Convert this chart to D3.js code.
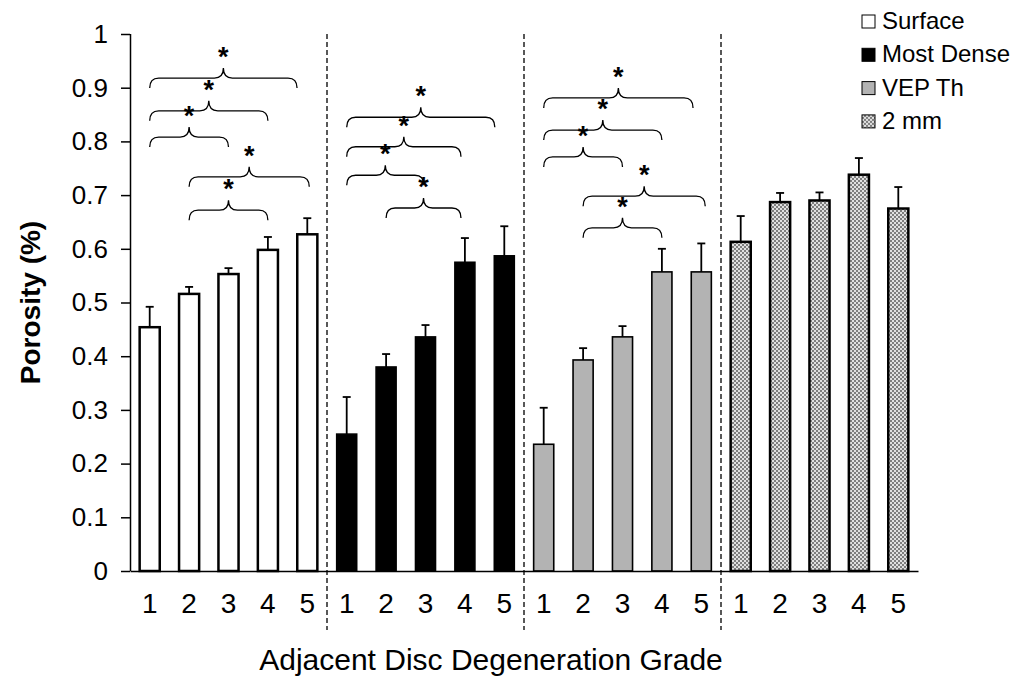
<!DOCTYPE html>
<html>
<head>
<meta charset="utf-8">
<script src="https://cdn.jsdelivr.net/npm/d3@7"></script>
<style>
  body { margin: 0; background: #fff; }
  text { font-family: "Liberation Sans", Arial, sans-serif; fill: #000; }
</style>
</head>
<body>
<div id="chart"></div>
<script>
// data
var groups = ["Surface", "Most Dense", "VEP Th", "2 mm"];
var grades = ["1", "2", "3", "4", "5"];

var surfaceMean = [0.454, 0.516, 0.553, 0.598, 0.627];
var surfaceErr  = [0.038, 0.013, 0.011, 0.024, 0.030];
var denseMean   = [0.255, 0.380, 0.436, 0.575, 0.587];
var denseErr    = [0.069, 0.024, 0.022, 0.045, 0.055];
var vepMean     = [0.236, 0.393, 0.436, 0.557, 0.557];
var vepErr      = [0.068, 0.022, 0.020, 0.043, 0.053];
var twoMean     = [0.613, 0.687, 0.690, 0.738, 0.675];
var twoErr      = [0.048, 0.017, 0.015, 0.031, 0.040];

// significance braces: [from grade, to grade, level]
var surfaceBraces = [[1, 4.74, 0.918], [1, 4, 0.857], [1, 3, 0.808], [2, 5.05, 0.734], [2, 4, 0.672]];
var denseBraces   = [[1, 4.76, 0.845], [1, 3.9, 0.790], [1, 2.96, 0.737], [2, 3.9, 0.676]];
var vepBraces     = [[1, 4.79, 0.881], [1, 4, 0.821], [1, 3, 0.771], [2, 5.1, 0.698], [2, 4, 0.639]];

var means = [surfaceMean, denseMean, vepMean, twoMean];
var errs = [surfaceErr, denseErr, vepErr, twoErr];
var braces = [surfaceBraces, denseBraces, vepBraces, []];

var fills = ["#ffffff", "#000000", "#b3b3b3", "url(#hatch)"];
var strokeW = [2.5, 1.5, 1.6, 2.5];

var rows = [];
groups.forEach(function(g, gi) {
  grades.forEach(function(k, ki) {
    rows.push({key: g + "|" + k, group: gi, grade: k, v: means[gi][ki], e: errs[gi][ki]});
  });
});

var width = 1020, height = 680;
var margin = {left: 130, right: 102, top: 34, bottom: 109};

var svg = d3.select("#chart").append("svg")
  .attr("width", width)
  .attr("height", height);

var defs = svg.append("defs");
var pat = defs.append("pattern")
  .attr("id", "hatch")
  .attr("patternUnits", "userSpaceOnUse")
  .attr("width", 4).attr("height", 4);
pat.append("rect").attr("width", 4).attr("height", 4).attr("fill", "#7e7e7e");
pat.append("rect").attr("width", 2).attr("height", 2).attr("fill", "#e0e0e0");
pat.append("rect").attr("x", 2).attr("y", 2).attr("width", 2).attr("height", 2).attr("fill", "#e0e0e0");

var x = d3.scaleBand()
  .domain(rows.map(function(d) { return d.key; }))
  .range([margin.left, width - margin.right])
  .paddingInner(0.49)
  .paddingOuter(0.245);

var y = d3.scaleLinear()
  .domain([0, 1])
  .range([height - margin.bottom, margin.top]);

function cx(gi, pos) {
  // centre of a (possibly fractional) grade position inside a group
  var first = x(groups[gi] + "|1") + x.bandwidth() / 2;
  return first + (pos - 1) * x.step();
}

// group separators
d3.range(1, groups.length).forEach(function(i) {
  svg.append("line")
    .attr("x1", cx(i, 0.5)).attr("x2", cx(i, 0.5))
    .attr("y1", margin.top).attr("y2", 630)
    .attr("stroke", "#222").attr("stroke-width", 1.5)
    .attr("stroke-dasharray", "5,3");
});

// bars
svg.selectAll(".bar").data(rows).enter().append("rect")
  .attr("class", "bar")
  .attr("x", function(d) { return x(d.key); })
  .attr("width", x.bandwidth())
  .attr("y", function(d) { return y(d.v); })
  .attr("height", function(d) { return y(0) - y(d.v); })
  .attr("fill", function(d) { return fills[d.group]; })
  .attr("stroke", "#000")
  .attr("stroke-width", function(d) { return strokeW[d.group]; });

// error bars (upper only)
var eb = svg.selectAll(".err").data(rows).enter().append("g").attr("class", "err")
  .attr("stroke", "#000").attr("stroke-width", 1.8);
eb.append("line")
  .attr("x1", function(d) { return x(d.key) + x.bandwidth() / 2; })
  .attr("x2", function(d) { return x(d.key) + x.bandwidth() / 2; })
  .attr("y1", function(d) { return y(d.v); })
  .attr("y2", function(d) { return y(d.v + d.e); });
eb.append("line")
  .attr("x1", function(d) { return x(d.key) + x.bandwidth() / 2 - 4; })
  .attr("x2", function(d) { return x(d.key) + x.bandwidth() / 2 + 4; })
  .attr("y1", function(d) { return y(d.v + d.e); })
  .attr("y2", function(d) { return y(d.v + d.e); });

// braces with asterisks
function bracePath(x1, x2, yh) {
  var drop = 10, rise = 10, r = 9;
  var xm = (x1 + x2) / 2;
  return "M" + x1 + "," + (yh + drop) +
    " Q" + x1 + "," + yh + " " + (x1 + r) + "," + yh +
    " L" + (xm - r) + "," + yh +
    " Q" + xm + "," + yh + " " + xm + "," + (yh - rise) +
    " Q" + xm + "," + yh + " " + (xm + r) + "," + yh +
    " L" + (x2 - r) + "," + yh +
    " Q" + x2 + "," + yh + " " + x2 + "," + (yh + drop);
}
braces.forEach(function(list, gi) {
  list.forEach(function(b) {
    var x1 = cx(gi, b[0]), x2 = cx(gi, b[1]), yh = y(b[2]);
    svg.append("path")
      .attr("d", bracePath(x1, x2, yh))
      .attr("fill", "none").attr("stroke", "#000").attr("stroke-width", 1.3);
    svg.append("text")
      .attr("x", (x1 + x2) / 2)
      .attr("y", yh - 12)
      .attr("text-anchor", "middle")
      .style("font-size", "27px")
      .style("font-weight", "bold")
      .text("*");
  });
});

// y axis
var yAxis = svg.append("g")
  .attr("transform", "translate(" + margin.left + ",0)")
  .call(d3.axisLeft(y).ticks(10).tickSize(9).tickPadding(13)
    .tickFormat(function(d) { return d === 0 || d === 1 ? String(d) : d.toFixed(1); }));
yAxis.select(".domain").attr("stroke-width", 1.5).attr("d", "M0.5," + y(1) + "V" + y(0));
yAxis.selectAll(".tick line").attr("stroke-width", 1.5);
yAxis.selectAll("text")
  .style("font-family", "'Liberation Sans', Arial, sans-serif")
  .style("font-size", "26px");

// x axis
var xAxis = svg.append("g")
  .attr("transform", "translate(0," + y(0) + ")")
  .call(d3.axisBottom(x).tickSize(0).tickPadding(22)
    .tickFormat(function(k) { return k.split("|")[1]; }));
xAxis.select(".domain").attr("stroke-width", 1.5);
xAxis.selectAll("text")
  .style("font-family", "'Liberation Sans', Arial, sans-serif")
  .style("font-size", "28px");

// axis titles
svg.append("text")
  .attr("x", 491).attr("y", 670)
  .attr("text-anchor", "middle")
  .style("font-size", "30px")
  .text("Adjacent Disc Degeneration Grade");

svg.append("text")
  .attr("transform", "translate(40," + y(0.5) + ") rotate(-90)")
  .attr("text-anchor", "middle")
  .style("font-size", "28px")
  .style("font-weight", "bold")
  .text("Porosity (%)");

// legend
var legend = svg.append("g").attr("transform", "translate(862,15)");
groups.forEach(function(g, i) {
  var row = legend.append("g").attr("transform", "translate(0," + (i * 33.3) + ")");
  row.append("rect")
    .attr("width", 13).attr("height", 13)
    .attr("fill", fills[i]).attr("stroke", "#000").attr("stroke-width", 1);
  row.append("text")
    .attr("x", 20).attr("y", 14)
    .style("font-size", "24px")
    .text(g);
});
</script>
</body>
</html>
